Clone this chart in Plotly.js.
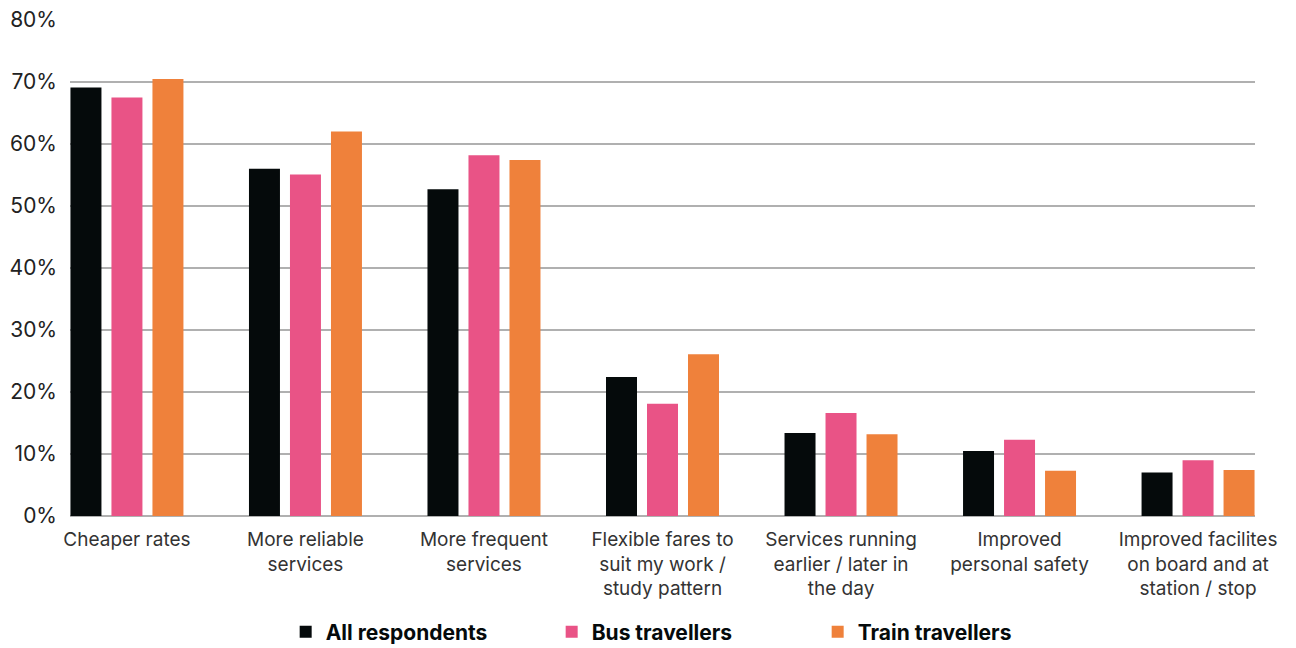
<!DOCTYPE html>
<html>
<head>
<meta charset="utf-8">
<script src="https://cdn.plot.ly/plotly-3.0.1.min.js"></script>
<style>
  html, body { margin: 0; padding: 0; background: #ffffff; }
  #chart { width: 1296px; height: 648px; }
</style>
</head>
<body>
<div id="chart"></div>
<script>
const categories = [
  "Cheaper rates",
  "More reliable<br>services",
  "More frequent<br>services",
  "Flexible fares to<br>suit my work /<br>study pattern",
  "Services running<br>earlier / later in<br>the day",
  "Improved<br>personal safety",
  "Improved facilites<br>on board and at<br>station / stop"
];
const allRespondents = [69.1, 56.0, 52.7, 22.4, 13.4, 10.5, 7.0];
const busTravellers  = [67.5, 55.1, 58.2, 18.1, 16.6, 12.3, 9.0];
const trainTravellers = [70.5, 62.0, 57.4, 26.1, 13.2, 7.3, 7.4];
const seriesNames = ["All respondents", "Bus travellers", "Train travellers"];
const yTickVals = [0, 10, 20, 30, 40, 50, 60, 70, 80];
const yTickText = ["0%", "10%", "20%", "30%", "40%", "50%", "60%", "70%", "80%"];

const colors = ["#050a0b", "#e95386", "#ef813b"];
const seriesData = [allRespondents, busTravellers, trainTravellers];

const traces = seriesData.map((vals, i) => ({
  type: "bar",
  name: seriesNames[i],
  x: categories,
  y: vals,
  marker: { color: colors[i], line: { width: 0 } },
  hoverinfo: "x+y+name"
}));

const layout = {
  width: 1296,
  height: 648,
  margin: { l: 70, r: 41, t: 20, b: 132, autoexpand: false },
  paper_bgcolor: "#ffffff",
  plot_bgcolor: "#ffffff",
  font: { family: "Inter, 'Open Sans', sans-serif", color: "#333333" },
  barmode: "group",
  bargap: 0.311,
  bargroupgap: 0.244,
  xaxis: {
    type: "category",
    range: [-0.319, 6.319],
    automargin: false,
    showgrid: false,
    zeroline: false,
    showline: false,
    ticks: "",
    tickfont: { size: 19, color: "#333333" },
    ticklabelstandoff: 10,
    fixedrange: true
  },
  yaxis: {
    range: [0, 80],
    automargin: false,
    tickvals: yTickVals,
    ticktext: yTickText,
    showgrid: true,
    gridcolor: "#b0b0b0",
    gridwidth: 1.2,
    zeroline: true,
    zerolinecolor: "#b0b0b0",
    zerolinewidth: 1.2,
    showline: false,
    ticks: "",
    tickfont: { size: 21, color: "#222222" },
    ticklabelstandoff: 12,
    fixedrange: true
  },
  showlegend: true,
  legend: {
    orientation: "h",
    x: 0.182,
    xanchor: "left",
    y: -0.234,
    yanchor: "middle",
    font: { size: 21, color: "#050a0b", family: "Inter, 'Open Sans', sans-serif", weight: 700 },
    entrywidth: 221,
    entrywidthmode: "pixels",
    bgcolor: "rgba(0,0,0,0)"
  }
};

Plotly.newPlot("chart", traces, layout, { displayModeBar: false, staticPlot: true });
</script>
</body>
</html>
